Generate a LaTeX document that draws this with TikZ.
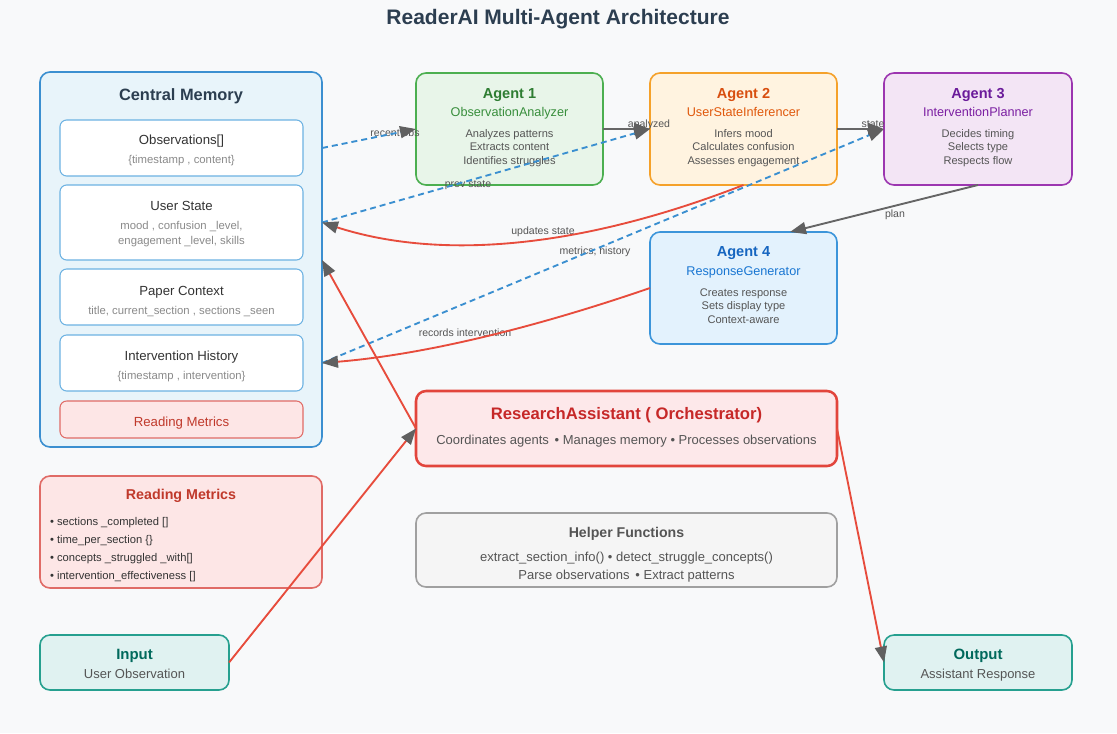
\documentclass[tikz,border=0pt]{standalone}
\usepackage{fontspec}
\setmainfont{Liberation Sans}
\usetikzlibrary{arrows.meta,calc}
\definecolor{bgc}{HTML}{F8F9FA}
\definecolor{titlec}{HTML}{2C3E50}
\definecolor{memfill}{HTML}{E8F4FA}
\definecolor{memdraw}{HTML}{3B8FD0}
\definecolor{subdraw}{HTML}{6CB2E2}
\definecolor{pinkfill}{HTML}{FDE6E6}
\definecolor{pinkdraw}{HTML}{E06B66}
\definecolor{redtxt}{HTML}{C0392B}
\definecolor{greyt}{HTML}{555555}
\definecolor{lightt}{HTML}{8A8A8A}
\definecolor{darkt}{HTML}{333333}
\definecolor{aonefill}{HTML}{E8F5E9}
\definecolor{aonedraw}{HTML}{4CAF50}
\definecolor{aonet}{HTML}{2E7D32}
\definecolor{aones}{HTML}{388E3C}
\definecolor{atwofill}{HTML}{FFF3E0}
\definecolor{atwodraw}{HTML}{F5A12A}
\definecolor{atwot}{HTML}{D84E0F}
\definecolor{atwos}{HTML}{E0580C}
\definecolor{athreefill}{HTML}{F3E5F5}
\definecolor{athreedraw}{HTML}{9C36B0}
\definecolor{athreet}{HTML}{6A1B9A}
\definecolor{athrees}{HTML}{7B1FA2}
\definecolor{afourfill}{HTML}{E3F2FD}
\definecolor{afourdraw}{HTML}{3C95DA}
\definecolor{afourt}{HTML}{1565C0}
\definecolor{afours}{HTML}{1976D2}
\definecolor{rafill}{HTML}{FDE8EA}
\definecolor{radraw}{HTML}{E2453C}
\definecolor{rat}{HTML}{C62828}
\definecolor{hffill}{HTML}{F5F5F5}
\definecolor{hfdraw}{HTML}{A0A0A0}
\definecolor{iofill}{HTML}{E0F2F1}
\definecolor{iodraw}{HTML}{26A08F}
\definecolor{iot}{HTML}{00695C}
\definecolor{edgegray}{HTML}{666666}
\definecolor{edgered}{HTML}{E74C3C}
\definecolor{edgeblue}{HTML}{3A8FD0}
\definecolor{arrc}{HTML}{606060}
\newcommand\fsz[1]{\fontsize{#1}{#1}\selectfont}
\newcommand\pxl[1]{#1*0.75pt}
\begin{document}
\begin{tikzpicture}[x=0.75pt,y=-0.75pt,
  box/.style={draw, rounded corners=7.5pt, line width=1.2pt, inner sep=0pt, outer sep=0pt},
  sbox/.style={draw=subdraw, fill=white, rounded corners=5pt, line width=0.8pt, inner sep=0pt, outer sep=0pt},
  t/.style={inner sep=0pt, outer sep=0pt, text height=0.72em, text depth=0pt, yshift=-1.3pt},
  ttl/.style={t, font=\fsz{15.75pt}\bfseries, text=titlec},
  hd/.style={t, font=\fsz{10.9pt}\bfseries},
  sb/.style={t, font=\fsz{9.5pt}},
  ln/.style={t, font=\fsz{8.3pt}, text=greyt},
  mt/.style={t, font=\fsz{9.9pt}, text=darkt},
  ms/.style={t, font=\fsz{8.5pt}, text=lightt},
  el/.style={t, font=\fsz{7.9pt}, text=greyt},
  bul/.style={t, font=\fsz{8.4pt}, text=darkt, anchor=west},
  arr/.style={-{Triangle[length=12pt,width=9pt,color=arrc,fill=arrc]}},
  gl/.style={draw=edgegray, line width=1.4pt, arr},
  rl/.style={draw=edgered, line width=1.4pt, arr},
  bl/.style={draw=edgeblue, line width=1.4pt, dash pattern=on 4.5pt off 3pt, arr}
]
\fill[bgc] (0,0) rectangle (1117,733);
\useasboundingbox (0,0) rectangle (1117,733);

\node[ttl] (title) at (558,18) {ReaderAI Multi-Agent Architecture};

% Central memory
\node[box, draw=memdraw, fill=memfill, minimum width=\pxl{282}, minimum height=\pxl{375}] (mem) at (181,259.5) {};
\node[t, font=\fsz{12.3pt}\bfseries, text=titlec] (memt) at (181,94) {Central Memory};
\node[sbox, minimum width=\pxl{243}, minimum height=\pxl{56}] (obs) at (181.5,148) {};
\node[mt] (obst) at (181.5,138) {Observations[]};
\node[ms] (obss) at (181.5,157) {\{timestamp , content\}};
\node[sbox, minimum width=\pxl{243}, minimum height=\pxl{75}] (us) at (181.5,222.5) {};
\node[mt] (ust) at (181.5,204) {User State};
\node[ms] (uss) at (181.5,223) {mood , confusion \_level,};
\node[ms] (uss2) at (181.5,238) {engagement \_level, skills};
\node[sbox, minimum width=\pxl{243}, minimum height=\pxl{56}] (pc) at (181.5,297) {};
\node[mt] (pct) at (181.5,289) {Paper Context};
\node[ms] (pcs) at (181.5,308) {title, current\_section , sections \_seen};
\node[sbox, minimum width=\pxl{243}, minimum height=\pxl{56}] (ih) at (181.5,363) {};
\node[mt] (iht) at (181.5,354) {Intervention History};
\node[ms] (ihs) at (181.5,373) {\{timestamp , intervention\}};
\node[sbox, draw=pinkdraw, fill=pinkfill, minimum width=\pxl{243}, minimum height=\pxl{37}] (rmi) at (181.5,419.5) {};
\node[mt, text=redtxt] (rmit) at (181.5,419.5) {Reading Metrics};

% Agent 1
\node[box, draw=aonedraw, fill=aonefill, minimum width=\pxl{187}, minimum height=\pxl{112}] (a1) at (509.5,129) {};
\node[hd, text=aonet] (a1t) at (509.5,92) {Agent 1};
\node[sb, text=aones] (a1s) at (509.5,110) {ObservationAnalyzer};
\node[ln] (a1l1) at (509.5,131) {Analyzes patterns};
\node[ln] (a1l2) at (509.5,144) {Extracts content};
\node[ln] (a1l3) at (509.5,158) {Identifies struggles};

% Agent 2
\node[box, draw=atwodraw, fill=atwofill, minimum width=\pxl{187}, minimum height=\pxl{112}] (a2) at (743.5,129) {};
\node[hd, text=atwot] (a2t) at (743.5,92) {Agent 2};
\node[sb, text=atwos] (a2s) at (743.5,110) {UserStateInferencer};
\node[ln] (a2l1) at (743.5,131) {Infers mood};
\node[ln] (a2l2) at (743.5,144) {Calculates confusion};
\node[ln] (a2l3) at (743.5,158) {Assesses engagement};

% Agent 3
\node[box, draw=athreedraw, fill=athreefill, minimum width=\pxl{188}, minimum height=\pxl{112}] (a3) at (978,129) {};
\node[hd, text=athreet] (a3t) at (978,92) {Agent 3};
\node[sb, text=athrees] (a3s) at (978,110) {InterventionPlanner};
\node[ln] (a3l1) at (978,131) {Decides timing};
\node[ln] (a3l2) at (978,144) {Selects type};
\node[ln] (a3l3) at (978,158) {Respects flow};

% Agent 4
\node[box, draw=afourdraw, fill=afourfill, minimum width=\pxl{187}, minimum height=\pxl{112}] (a4) at (743.5,288) {};
\node[hd, text=afourt] (a4t) at (743.5,250) {Agent 4};
\node[sb, text=afours] (a4s) at (743.5,269) {ResponseGenerator};
\node[ln] (a4l1) at (743.5,290) {Creates response};
\node[ln] (a4l2) at (743.5,303) {Sets display type};
\node[ln] (a4l3) at (743.5,317) {Context-aware};

% Research assistant
\node[box, draw=radraw, fill=rafill, line width=1.9pt, minimum width=\pxl{421}, minimum height=\pxl{75}] (ra) at (626.5,428.5) {};
\node[t, font=\fsz{12.5pt}\bfseries, text=rat] (rat) at (626.5,413) {ResearchAssistant ( Orchestrator)};
\node[t, font=\fsz{9.75pt}, text=greyt] (ras) at (626.5,438) {Coordinates agents \,• Manages memory • Processes observations};

% Helper functions
\node[box, draw=hfdraw, fill=hffill, minimum width=\pxl{421}, minimum height=\pxl{74}] (hf) at (626.5,550) {};
\node[t, font=\fsz{10.6pt}\bfseries, text=greyt] (hft) at (626.5,531) {Helper Functions};
\node[t, font=\fsz{9.75pt}, text=greyt] (hfl1) at (626.5,555) {extract\_section\_info() • detect\_struggle\_concepts()};
\node[t, font=\fsz{9.75pt}, text=greyt] (hfl2) at (626.5,573) {Parse observations \,• Extract patterns};

% Reading metrics
\node[box, draw=pinkdraw, fill=pinkfill, minimum width=\pxl{282}, minimum height=\pxl{112}] (rm) at (181,532) {};
\node[t, font=\fsz{10.7pt}\bfseries, text=redtxt] (rmt) at (181,493) {Reading Metrics};
\node[bul] (rmb1) at (50,519) {• sections \_completed []};
\node[bul] (rmb2) at (50,537) {• time\_per\_section \{\}};
\node[bul] (rmb3) at (50,555) {• concepts \_struggled \_with[]};
\node[bul] (rmb4) at (50,573) {• intervention\_effectiveness []};

% Input / Output
\node[box, draw=iodraw, fill=iofill, minimum width=\pxl{189}, minimum height=\pxl{55}] (in) at (134.5,662.5) {};
\node[t, font=\fsz{11.2pt}\bfseries, text=iot] (int) at (134.5,653) {Input};
\node[t, font=\fsz{9.75pt}, text=greyt] (ins) at (134.5,672) {User Observation};
\node[box, draw=iodraw, fill=iofill, minimum width=\pxl{188}, minimum height=\pxl{55}] (out) at (978,662.5) {};
\node[t, font=\fsz{11.2pt}\bfseries, text=iot] (outt) at (978,653) {Output};
\node[t, font=\fsz{9.75pt}, text=greyt] (outs) at (978,672) {Assistant Response};

% edge labels
\node[el] (lrecent) at (395,130) {recent obs};
\node[el] (lanalyzed) at (649,121) {analyzed};
\node[el] (lstate) at (873,121) {state};
\node[el] (lprev) at (468,181) {prev state};
\node[el] (lupd) at (543,228) {updates state};
\node[el] (lmetrics) at (595,248) {metrics, history};
\node[el] (lplan) at (895,211) {plan};
\node[el] (lrec) at (465,330) {records intervention};

% connectors
\draw[bl] (mem.east |- obs.east) -- (a1.west);
\draw[gl] (a1.east) -- (a2.west);
\draw[gl] (a2.east) -- (a3.west);
\draw[bl] (mem.east |- us.east) -- (a2.west);
\draw[bl] (mem.east |- ih.east) -- (a3.west);
\draw[rl] (a2.south) .. controls (581,248.3) and (440.7,260.7) .. (mem.east |- us.east);
\draw[rl] (a4.west) .. controls (530,329.3) and (420.7,355) .. (mem.east |- ih.east);
\draw[gl] (a3.south) -- ($(a4.north)+(46.5,0)$);
\draw[rl] (ra.west) -- (mem.east |- us.south);
\draw[rl] (in.east) -- (ra.west);
\draw[rl] (ra.east) -- (out.west);
\end{tikzpicture}
\end{document}
